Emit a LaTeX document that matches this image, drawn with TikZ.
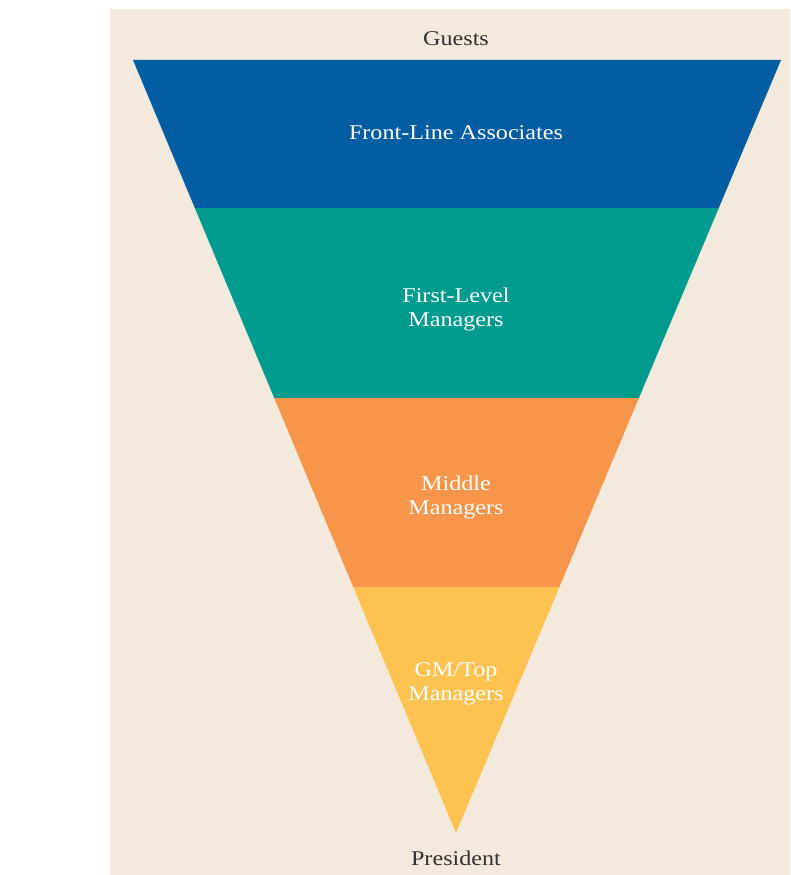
\documentclass[tikz,border=0pt]{standalone}
\usetikzlibrary{calc}
\usepackage{fontspec}
\setmainfont[FakeStretch=1.15]{Liberation Serif}
\definecolor{bgc}{HTML}{F3E9DC}
\definecolor{bluec}{HTML}{035DA3}
\definecolor{tealc}{HTML}{009B8F}
\definecolor{orangec}{HTML}{F7964A}
\definecolor{yellowc}{HTML}{FDC24F}
\definecolor{txtc}{HTML}{333333}
\begin{document}
\begin{tikzpicture}[x=1pt,y=-1pt,
  lbl/.style={font=\fontsize{21}{24}\selectfont, text=white, align=center, inner sep=0pt},
  outer/.style={font=\fontsize{21}{24}\selectfont, text=txtc, inner sep=0pt}]
\useasboundingbox (0,0) rectangle (790,875);
\fill[bgc] (110,9) rectangle (790,875);
% bands of inverted triangle: top (133,60)-(781,60), apex (456,833)
\coordinate (TL) at (133,60);
\coordinate (TR) at (781,60);
\coordinate (AP) at (456,833);
\fill[bluec] (TL) -- (TR) -- ($(TR)!0.19146!(AP)$) -- ($(TL)!0.19146!(AP)$) -- cycle;
\fill[tealc] ($(TL)!0.19146!(AP)$) -- ($(TR)!0.19146!(AP)$) -- ($(TR)!0.43726!(AP)$) -- ($(TL)!0.43726!(AP)$) -- cycle;
\fill[orangec] ($(TL)!0.43726!(AP)$) -- ($(TR)!0.43726!(AP)$) -- ($(TR)!0.68176!(AP)$) -- ($(TL)!0.68176!(AP)$) -- cycle;
\fill[yellowc] ($(TL)!0.68176!(AP)$) -- ($(TR)!0.68176!(AP)$) -- (AP) -- cycle;
\node[outer] (guests) at (456,39) {Guests};
\node[lbl] (front) at (456,133) {Front-Line Associates};
\node[lbl] (first) at (456,309) {First-Level\\Managers};
\node[lbl] (middle) at (456,497) {Middle\\Managers};
\node[lbl] (gm) at (456,684) {GM/Top\\Managers};
\node[outer] (pres) at (456,858) {President};
\end{tikzpicture}
\end{document}
